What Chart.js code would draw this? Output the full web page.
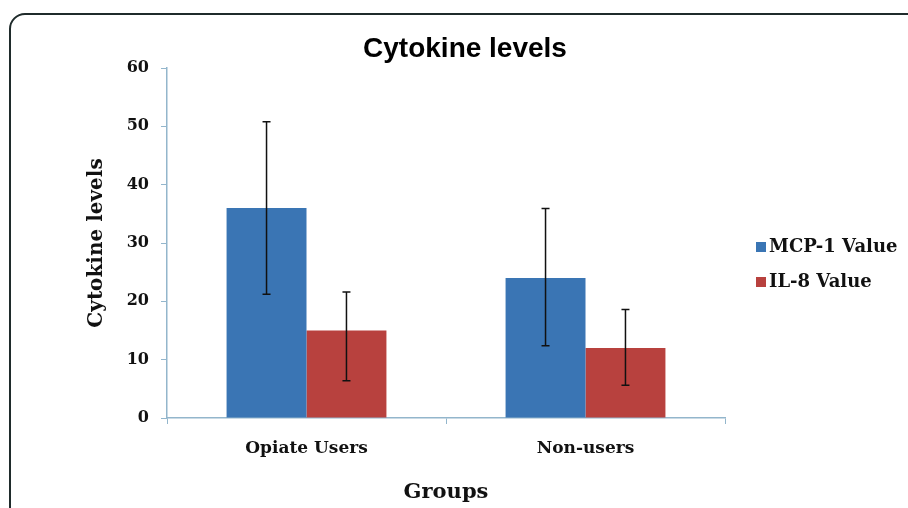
<!DOCTYPE html>
<html>
<head>
<meta charset="utf-8">
<script src="https://cdn.jsdelivr.net/npm/chart.js@4/dist/chart.umd.min.js"></script>
<style>
  html, body { margin: 0; padding: 0; background: #fff; overflow: hidden; }
  #wrap { position: relative; width: 908px; height: 508px; }
  #frame { position: absolute; left: 9px; top: 13px; width: 1000px; height: 510px;
           border: 2.5px solid #1f2b2b; border-radius: 16px; box-sizing: border-box; }
  canvas { position: absolute; left: 0; top: 0; }
</style>
</head>
<body>
<div id="wrap">
  <div id="frame"></div>
  <canvas id="c" width="908" height="508"></canvas>
</div>
<script>
const categories = ["Opiate Users", "Non-users"];
const seriesNames = ["MCP-1 Value", "IL-8 Value"];
const mcp1Values = [36, 24];
const il8Values = [15, 12];
const mcp1ErrLow = [21.2, 12.4];
const mcp1ErrHigh = [50.8, 35.9];
const il8ErrLow = [6.4, 5.6];
const il8ErrHigh = [21.6, 18.6];
const yTicks = [0, 10, 20, 30, 40, 50, 60];

const SERIF = "'DejaVu Serif', 'Liberation Serif', serif";
const axisColor = '#93b6cc';
const colors = ['#3a75b4', '#b8413e'];

const errorBars = {
  id: 'errorBars',
  afterDatasetsDraw(chart) {
    const ctx = chart.ctx;
    const y = chart.scales.y;
    const lows = [mcp1ErrLow, il8ErrLow];
    const highs = [mcp1ErrHigh, il8ErrHigh];
    ctx.save();
    ctx.strokeStyle = '#111';
    ctx.lineWidth = 1.5;
    chart.data.datasets.forEach((ds, di) => {
      const meta = chart.getDatasetMeta(di);
      meta.data.forEach((bar, i) => {
        const x = bar.x;
        const yt = y.getPixelForValue(highs[di][i]);
        const yb = y.getPixelForValue(lows[di][i]);
        ctx.beginPath();
        ctx.moveTo(x, yt); ctx.lineTo(x, yb);
        ctx.moveTo(x - 4, yt); ctx.lineTo(x + 4, yt);
        ctx.moveTo(x - 4, yb); ctx.lineTo(x + 4, yb);
        ctx.stroke();
      });
    });
    ctx.restore();
  }
};

const titleAndLegend = {
  id: 'titleAndLegend',
  afterDraw(chart) {
    const ctx = chart.ctx;
    ctx.save();
    ctx.fillStyle = '#000';
    ctx.font = "bold 28px 'Liberation Sans', Arial, sans-serif";
    ctx.textAlign = 'center';
    ctx.textBaseline = 'alphabetic';
    ctx.fillText('Cytokine levels', 465, 57);
    ctx.font = 'bold 18px ' + SERIF;
    ctx.textAlign = 'left';
    ctx.textBaseline = 'middle';
    const ys = [247, 282];
    chart.data.datasets.forEach((ds, i) => {
      ctx.fillStyle = ds.backgroundColor;
      ctx.fillRect(756, ys[i] - 5, 10, 10);
      ctx.fillStyle = '#111';
      ctx.fillText(ds.label, 769, ys[i]);
    });
    ctx.restore();
  }
};

new Chart(document.getElementById('c'), {
  type: 'bar',
  data: {
    labels: categories,
    datasets: [
      { label: seriesNames[0], data: mcp1Values, backgroundColor: colors[0] },
      { label: seriesNames[1], data: il8Values, backgroundColor: colors[1] }
    ]
  },
  options: {
    responsive: false,
    animation: false,
    devicePixelRatio: 1,
    layout: { padding: { left: 0, top: 68, right: 183, bottom: 0 } },
    datasets: { bar: { barPercentage: 1.0, categoryPercentage: 0.573 } },
    plugins: {
      legend: { display: false },
      title: { display: false },
      tooltip: { enabled: false }
    },
    scales: {
      x: {
        afterFit(s) { s.height = 90; },
        grid: { display: true, drawOnChartArea: false, drawTicks: true, tickLength: 6, color: axisColor, offset: true },
        border: { display: true, color: axisColor, width: 1.5 },
        ticks: { color: '#111', font: { family: SERIF, size: 17, weight: 'bold' }, padding: 14 },
        title: { display: true, text: 'Groups', color: '#111',
                 font: { family: SERIF, size: 21, weight: 'bold' }, padding: { top: 0, bottom: 3 } }
      },
      y: {
        min: 0, max: 60,
        afterFit(s) { s.width = 167; },
        afterBuildTicks(s) { s.ticks = yTicks.map(v => ({ value: v })); },
        grid: { display: true, drawOnChartArea: false, drawTicks: true, tickLength: 6, color: axisColor },
        border: { display: true, color: axisColor, width: 1.5 },
        ticks: { color: '#111', font: { family: SERIF, size: 16, weight: 'bold' }, padding: 12 },
        title: { display: true, text: 'Cytokine levels', color: '#111',
                 font: { family: SERIF, size: 20, weight: 'bold' }, padding: { top: 85, bottom: 0 } }
      }
    }
  },
  plugins: [errorBars, titleAndLegend]
});
</script>
</body>
</html>
